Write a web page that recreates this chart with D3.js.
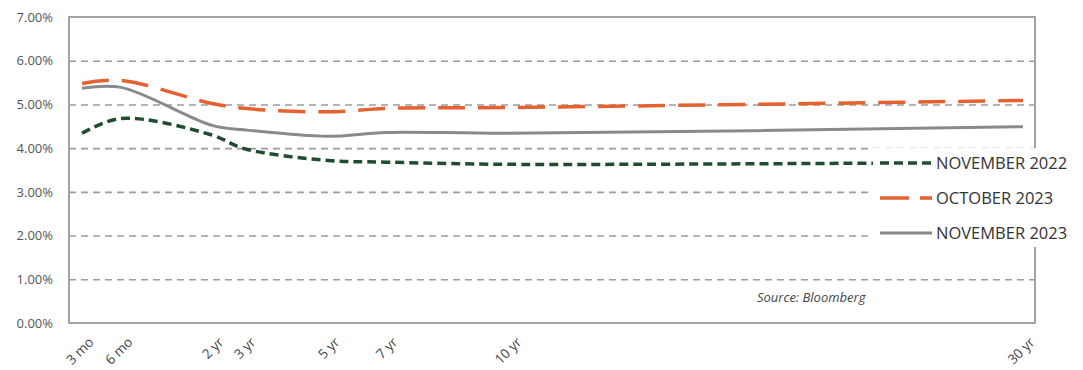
<!DOCTYPE html>
<html>
<head>
<meta charset="utf-8">
<title>Treasury yield curve</title>
<style type="text/css">
	body{ margin:0; background:#fff; }
	#chart text{ font-family:"Open Sans", sans-serif; }
</style>
</head>
<body>
<div id="chart"></div>
<script type="text/javascript" src="https://cdn.jsdelivr.net/npm/d3@7/dist/d3.min.js"></script>
<script>
	// maturities (years) and their labels
	var maturities = [0.25, 0.5, 2, 3, 5, 7, 10, 30];
	var labels = ["3 mo", "6 mo", "2 yr", "3 yr", "5 yr", "7 yr", "10 yr", "30 yr"];
	var yTicks = [0, 1, 2, 3, 4, 5, 6, 7];

	// yields in %
	var nov2022 = [4.34, 4.68, 4.30, 3.99, 3.72, 3.68, 3.63, 3.68];
	var oct2023 = [5.48, 5.55, 5.02, 4.91, 4.83, 4.91, 4.93, 5.09];
	var nov2023 = [5.37, 5.39, 4.52, 4.42, 4.27, 4.36, 4.34, 4.49];

	var seriesNames = ["NOVEMBER 2022", "OCTOBER 2023", "NOVEMBER 2023"];

	var W = 1083, H = 370;
	var pLeft = 69, pRight = 1035, pTop = 17, pBottom = 323;

	var svg = d3.select('#chart').append('svg')
		.attr('width', W).attr('height', H);

	// x is not linear in the original, positions are set per maturity
	var x = d3.scaleLinear()
		.domain(maturities)
		.range([82, 121, 212, 244, 328, 386, 510, 1023]);
	var y = d3.scaleLinear().domain([0, 7]).range([pBottom, pTop]);

	// grid
	var grid = svg.append('g')
		.attr('transform', 'translate(' + pLeft + ',0)')
		.call(d3.axisLeft(y).tickValues([1, 2, 3, 4, 5, 6]).tickSize(-(pRight - pLeft)).tickFormat(''));
	grid.select('.domain').remove();
	grid.selectAll('line')
		.attr('stroke', '#9c9c9c')
		.attr('stroke-width', 1.6)
		.attr('stroke-dasharray', '7,5');

	// y labels
	var yAxis = svg.append('g')
		.attr('transform', 'translate(' + (pLeft - 16) + ',0)')
		.call(d3.axisLeft(y).tickValues(yTicks).tickSize(0).tickFormat(function(d){ return d.toFixed(2) + '%'; }));
	yAxis.select('.domain').remove();
	yAxis.selectAll('text')
		.attr('x', 0)
		.style('font-size', '13px')
		.attr('fill', '#555');

	// frame
	svg.append('rect')
		.attr('x', pLeft).attr('y', pTop)
		.attr('width', pRight - pLeft).attr('height', pBottom - pTop)
		.attr('fill', 'none')
		.attr('stroke', '#a3a3a3')
		.attr('stroke-width', 2);

	// x labels
	var xAxis = svg.append('g')
		.attr('transform', 'translate(0,' + pBottom + ')')
		.call(d3.axisBottom(x).tickValues(maturities).tickSize(0)
			.tickFormat(function(d, i){ return labels[i]; }));
	xAxis.select('.domain').remove();
	xAxis.selectAll('text')
		.style('font-size', '13.5px')
		.attr('fill', '#444')
		.attr('text-anchor', 'end')
		.attr('dy', 0)
		.attr('y', 0)
		.attr('transform', 'translate(12,20) rotate(-45)');

	var line = d3.line()
		.x(function(d, i){ return x(maturities[i]); })
		.y(function(d){ return y(d); })
		.curve(d3.curveCatmullRom.alpha(0.5));

	var styles = [
		{ data: nov2022, color: '#1f4d2f', dash: '9,5', w: 3.5 },
		{ data: oct2023, color: '#e5612f', dash: '27,13', w: 3.5 },
		{ data: nov2023, color: '#8a8a8a', dash: null, w: 3 }
	];

	svg.selectAll('.series')
		.data(styles)
		.enter().append('path')
		.attr('class', 'series')
		.attr('d', function(d){ return line(d.data); })
		.attr('fill', 'none')
		.attr('stroke', function(d){ return d.color; })
		.attr('stroke-width', function(d){ return d.w; })
		.attr('stroke-dasharray', function(d){ return d.dash; });

	// legend box on top of the plot
	var lg = svg.append('g');
	lg.append('rect')
		.attr('x', 873).attr('y', 148)
		.attr('width', 210).attr('height', 99)
		.attr('fill', '#fff');
	var items = lg.selectAll('.item')
		.data(styles)
		.enter().append('g')
		.attr('class', 'item')
		.attr('transform', function(d, i){ return 'translate(880,' + (163 + i * 35) + ')'; });
	items.append('line')
		.attr('x1', 0).attr('x2', 52)
		.attr('stroke', function(d){ return d.color; })
		.attr('stroke-width', function(d){ return d.w; })
		.attr('stroke-dasharray', function(d, i){ return i == 1 ? '29,11' : d.dash; });
	items.append('text')
		.attr('x', 56).attr('y', 6)
		.style('font-size', '16.5px')
		.attr('fill', '#333')
		.text(function(d, i){ return seriesNames[i]; });

	svg.append('text')
		.attr('x', 757).attr('y', 302)
		.style('font-size', '13px')
		.style('font-style', 'italic')
		.attr('fill', '#444')
		.text('Source: Bloomberg');
</script>
</body>
</html>
